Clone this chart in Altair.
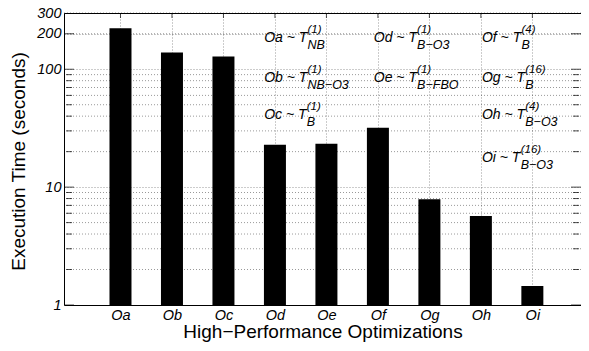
import altair as alt
import pandas as pd

# ---- data ----
names = ["Oa", "Ob", "Oc", "Od", "Oe", "Of", "Og", "Oh", "Oi"]
times = [223, 139, 128, 22.9, 23.3, 31.9, 7.9, 5.7, 1.45]
slots = list(range(1, 10))

y_major = [1, 10, 100, 200, 300]
y_minor = [2, 3, 4, 5, 6, 7, 8, 9, 20, 30, 40, 50, 60, 70, 80, 90, 200, 300]

ann_main = [f"{n} ~ T" for n in names]
ann_sup = ["(1)", "(1)", "(1)", "(1)", "(1)", "(4)", "(16)", "(4)", "(16)"]
ann_sub = ["NB", "NB\u2212O3", "B", "B\u2212O3", "B\u2212FBO", "B", "B", "B\u2212O3", "B\u2212O3"]
ann_x = [3.79, 3.79, 3.79, 5.92, 5.92, 8.02, 8.02, 8.02, 8.02]
ann_y = [183, 84, 41, 183, 84, 183, 84, 41, 17.6]

# ---- layout / style ----
W, H = 517, 292
STEP_PX = 52.5                      # pixels per x unit, as in the reference
X_DOMAIN = [0, W / STEP_PX]         # right edge of the axes box sits at the page edge
MAIN_FS = 14
SUB_FS = 12.5
SUP_FS = 11.5
FONT = "Liberation Sans"

# Arial-metric advance widths (per 1000 em) to place super/subscripts after "T"
adv = {"O": 778, "a": 556, "b": 556, "c": 500, "d": 556, "e": 556, "f": 278,
       "g": 556, "h": 556, "i": 222, " ": 278, "~": 584, "T": 611}
script_x = [x + (sum(adv[c] for c in m) * MAIN_FS / 1000 + 1) / STEP_PX
            for x, m in zip(ann_x, ann_main)]

bars_df = pd.DataFrame({"slot": slots, "name": names, "time": times})
minor_df = pd.DataFrame({"v": y_minor})
major_df = pd.DataFrame({"v": y_major})
yt_minor_df = pd.DataFrame({"v": [v for v in y_minor if v not in y_major]})
ann_df = pd.DataFrame({"ax": ann_x, "sx": script_x, "ay": ann_y,
                       "main": ann_main, "sup": ann_sup, "sub": ann_sub})

label_expr = "[" + ",".join(f"'{n}'" for n in names) + "][datum.value - 1]"

xscale = alt.Scale(domain=X_DOMAIN, nice=False, zero=False)
yscale = alt.Scale(type="log", domain=[1, 300], nice=False)

grid_kw = dict(grid=True, gridColor="black", gridOpacity=0.4, gridDash=[1, 2],
               gridWidth=1, ticks=False, domain=False,
               labelFont=FONT, labelFontStyle="italic", labelFontSize=14.5,
               labelColor="black", titleFont=FONT, titleFontSize=19,
               titleFontWeight="normal", titleColor="black", labelOverlap=False)

TX = "High\u2212Performance Optimizations"
TY = "Execution Time (seconds)"

x_axis = alt.Axis(values=slots, labelExpr=label_expr, labelPadding=3,
                  titleY=26, titleBaseline="middle", **grid_kw)
y_axis = alt.Axis(values=y_major, format="d", labelPadding=3,
                  titleX=-46, titleY=H / 2 + 2, titleBaseline="middle",
                  titleAngle=270, titleAlign="center", **grid_kw)


def X(field):
    return alt.X(field, scale=xscale, axis=x_axis, title=TX)


def Y(field):
    return alt.Y(field, scale=yscale, axis=y_axis, title=TY)


minor_grid = alt.Chart(minor_df).mark_rule(
    color="black", opacity=0.4, strokeDash=[1, 2], strokeWidth=1
).encode(y=Y("v:Q"))

bars = alt.Chart(bars_df).mark_bar(color="black", width=22).encode(
    x=X("slot:Q"), y=Y("time:Q"), y2=alt.datum(1),
)


def yticks(df, xpos, size):
    return alt.Chart(df).mark_tick(orient="horizontal", size=size, thickness=1,
                                   color="black", clip=True).encode(
        x=alt.datum(xpos), y=Y("v:Q"))


def xticks(ypos):
    return alt.Chart(bars_df).mark_tick(orient="vertical", size=10, thickness=1,
                                        color="black", clip=True).encode(
        x=X("slot:Q"), y=alt.datum(ypos))


def ann(xfield, textfield, size, dy):
    return alt.Chart(ann_df).mark_text(
        align="left", baseline="middle", font=FONT, fontStyle="italic",
        fontSize=size, color="black", dy=dy
    ).encode(x=X(xfield), y=Y("ay:Q"), text=textfield)


chart = alt.layer(
    minor_grid, bars,
    yticks(major_df, X_DOMAIN[0], 10), yticks(yt_minor_df, X_DOMAIN[0], 6),
    yticks(major_df, X_DOMAIN[1], 10), yticks(yt_minor_df, X_DOMAIN[1], 6),
    xticks(300), xticks(1),
    ann("ax:Q", "main:N", MAIN_FS, 0),
    ann("sx:Q", "sup:N", SUP_FS, -8),
    ann("sx:Q", "sub:N", SUB_FS, 7),
).properties(
    width=W, height=H,
    autosize=alt.AutoSizeParams(type="none"),
    padding={"left": 56, "top": 5, "right": 0, "bottom": 38},
    background="white",
).configure_view(stroke="black", strokeWidth=1)

chart.save("out.html", embed_options={"renderer": "svg", "actions": False})
